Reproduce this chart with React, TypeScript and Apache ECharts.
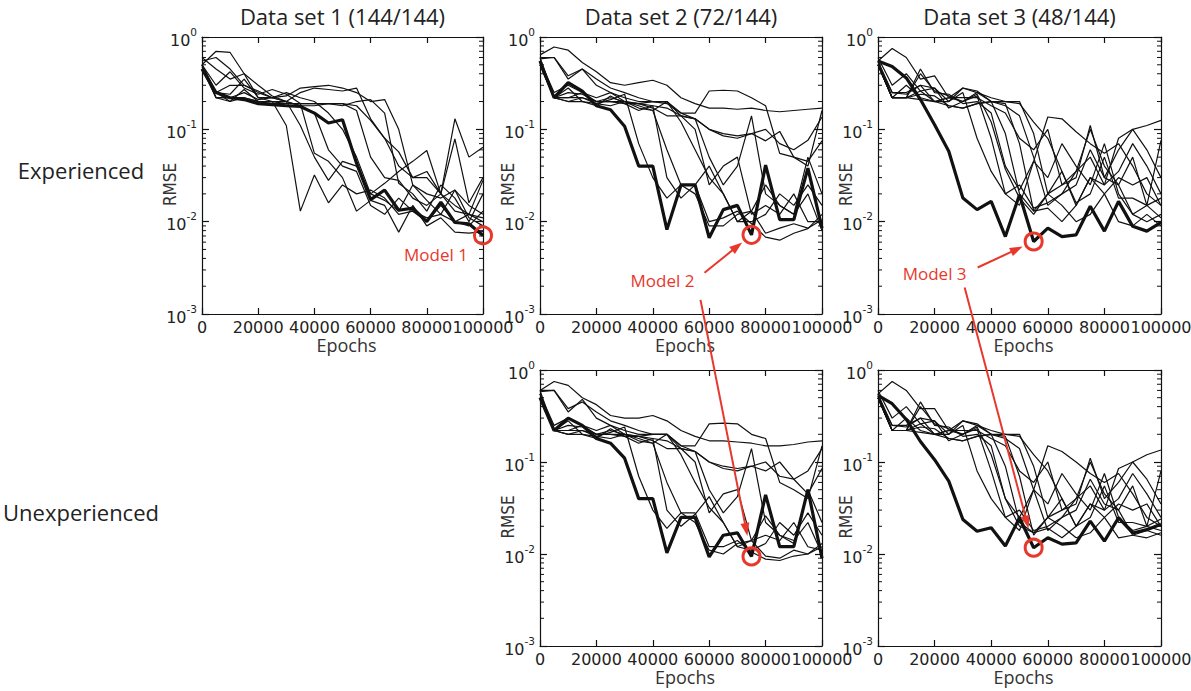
import React, { useEffect, useRef } from "react";
import * as echarts from "echarts";

const EPOCHS = [0, 5000, 10000, 15000, 20000, 25000, 30000, 35000, 40000, 45000, 50000, 55000, 60000, 65000, 70000, 75000, 80000, 85000, 90000, 95000, 100000];
const MINOR_TICKS = [0.002, 0.003, 0.004, 0.005, 0.006, 0.007, 0.008, 0.009, 0.02, 0.03, 0.04, 0.05, 0.06, 0.07, 0.08, 0.09, 0.2, 0.3, 0.4, 0.5, 0.6, 0.7, 0.8, 0.9];
const TITLES = ["Data set 1 (144/144)", "Data set 2 (72/144)", "Data set 3 (48/144)"];
const ROWS = ["Experienced", "Unexperienced"];
const MODELS = ["Model 1", "Model 2", "Model 3"];

// Data set 1, experienced
const exp1Best = [0.45, 0.25, 0.22, 0.21, 0.19, 0.185, 0.18, 0.177, 0.15, 0.117, 0.127, 0.043, 0.0173, 0.022, 0.0133, 0.014, 0.01, 0.0163, 0.0098, 0.0095, 0.0071];
const exp1Runs = [
  [0.5, 0.7, 0.68, 0.4, 0.3, 0.23, 0.2, 0.25, 0.28, 0.27, 0.26, 0.28, 0.13, 0.08, 0.04, 0.03, 0.03, 0.02, 0.015, 0.012, 0.011],
  [0.55, 0.6, 0.45, 0.3, 0.26, 0.22, 0.23, 0.28, 0.29, 0.3, 0.28, 0.25, 0.2, 0.21, 0.1, 0.025, 0.02, 0.018, 0.022, 0.015, 0.012],
  [0.45, 0.25, 0.2, 0.22, 0.2, 0.2, 0.11, 0.013, 0.032, 0.016, 0.025, 0.02, 0.022, 0.018, 0.012, 0.013, 0.011, 0.012, 0.01, 0.009, 0.013],
  [0.5, 0.22, 0.22, 0.25, 0.21, 0.22, 0.2, 0.11, 0.05, 0.028, 0.045, 0.04, 0.02, 0.026, 0.035, 0.045, 0.059, 0.02, 0.013, 0.012, 0.01],
  [0.5, 0.3, 0.42, 0.28, 0.24, 0.27, 0.24, 0.19, 0.055, 0.045, 0.03, 0.013, 0.017, 0.015, 0.0077, 0.015, 0.009, 0.011, 0.0077, 0.0075, 0.0078],
  [0.45, 0.22, 0.2, 0.27, 0.2, 0.2, 0.19, 0.19, 0.19, 0.19, 0.19, 0.18, 0.125, 0.08, 0.057, 0.03, 0.035, 0.02, 0.13, 0.05, 0.064],
  [0.5, 0.25, 0.24, 0.35, 0.22, 0.2, 0.2, 0.18, 0.18, 0.19, 0.19, 0.16, 0.05, 0.03, 0.028, 0.018, 0.015, 0.02, 0.079, 0.016, 0.03],
  [0.48, 0.22, 0.22, 0.22, 0.2, 0.19, 0.19, 0.19, 0.19, 0.19, 0.18, 0.2, 0.21, 0.15, 0.026, 0.02, 0.013, 0.025, 0.018, 0.01, 0.02],
  [0.5, 0.25, 0.3, 0.3, 0.25, 0.22, 0.25, 0.22, 0.2, 0.15, 0.1, 0.05, 0.02, 0.017, 0.013, 0.025, 0.017, 0.012, 0.022, 0.011, 0.009],
  [0.6, 0.45, 0.35, 0.4, 0.22, 0.22, 0.2, 0.18, 0.15, 0.06, 0.04, 0.035, 0.015, 0.012, 0.018, 0.013, 0.01, 0.015, 0.01, 0.012, 0.028],
];

// Data set 2, experienced
const exp2Best = [0.55, 0.22, 0.32, 0.26, 0.18, 0.163, 0.108, 0.04, 0.04, 0.0082, 0.025, 0.025, 0.0067, 0.0135, 0.015, 0.0072, 0.041, 0.0105, 0.0105, 0.038, 0.0085];
const exp2Runs = [
  [0.64, 0.78, 0.72, 0.53, 0.42, 0.32, 0.3, 0.32, 0.34, 0.3, 0.22, 0.19, 0.17, 0.17, 0.165, 0.17, 0.16, 0.155, 0.16, 0.165, 0.17],
  [0.58, 0.6, 0.35, 0.45, 0.3, 0.25, 0.22, 0.2, 0.2, 0.19, 0.15, 0.15, 0.26, 0.265, 0.26, 0.22, 0.18, 0.055, 0.05, 0.04, 0.16],
  [0.55, 0.22, 0.22, 0.22, 0.2, 0.2, 0.19, 0.19, 0.17, 0.14, 0.14, 0.13, 0.1, 0.09, 0.085, 0.09, 0.075, 0.095, 0.05, 0.045, 0.075],
  [0.5, 0.22, 0.25, 0.24, 0.2, 0.22, 0.2, 0.17, 0.16, 0.2, 0.15, 0.13, 0.05, 0.025, 0.04, 0.14, 0.02, 0.015, 0.012, 0.05, 0.02],
  [0.5, 0.22, 0.2, 0.22, 0.19, 0.21, 0.24, 0.07, 0.03, 0.018, 0.025, 0.025, 0.01, 0.011, 0.013, 0.0095, 0.0068, 0.0063, 0.0075, 0.0084, 0.012],
  [0.5, 0.22, 0.22, 0.25, 0.2, 0.2, 0.2, 0.18, 0.16, 0.06, 0.025, 0.02, 0.009, 0.009, 0.012, 0.013, 0.0075, 0.0085, 0.0095, 0.0085, 0.0105],
  [0.55, 0.22, 0.28, 0.2, 0.18, 0.23, 0.19, 0.16, 0.18, 0.17, 0.14, 0.1, 0.025, 0.04, 0.05, 0.012, 0.015, 0.012, 0.02, 0.01, 0.01],
  [0.6, 0.22, 0.2, 0.2, 0.19, 0.18, 0.2, 0.19, 0.2, 0.2, 0.12, 0.06, 0.03, 0.02, 0.01, 0.013, 0.025, 0.015, 0.012, 0.02, 0.008],
  [0.55, 0.25, 0.3, 0.25, 0.22, 0.25, 0.2, 0.19, 0.18, 0.03, 0.018, 0.025, 0.04, 0.02, 0.01, 0.01, 0.012, 0.02, 0.015, 0.025, 0.015],
  [0.6, 0.6, 0.38, 0.45, 0.35, 0.28, 0.25, 0.22, 0.2, 0.2, 0.14, 0.13, 0.1, 0.085, 0.08, 0.09, 0.1, 0.07, 0.06, 0.076, 0.136],
];

// Data set 3, experienced
const exp3Best = [0.55, 0.48, 0.36, 0.21, 0.112, 0.058, 0.018, 0.0135, 0.0166, 0.0069, 0.0196, 0.0061, 0.0085, 0.0069, 0.0072, 0.0147, 0.0079, 0.0166, 0.0089, 0.0079, 0.0098];
const exp3Runs = [
  [0.55, 0.75, 0.6, 0.35, 0.38, 0.22, 0.28, 0.25, 0.22, 0.2, 0.2, 0.09, 0.02, 0.025, 0.03, 0.11, 0.03, 0.06, 0.1, 0.11, 0.125],
  [0.5, 0.22, 0.22, 0.45, 0.25, 0.24, 0.19, 0.2, 0.15, 0.04, 0.022, 0.045, 0.136, 0.13, 0.094, 0.07, 0.055, 0.07, 0.04, 0.02, 0.015],
  [0.5, 0.22, 0.22, 0.21, 0.2, 0.18, 0.17, 0.19, 0.2, 0.18, 0.14, 0.05, 0.015, 0.02, 0.035, 0.05, 0.025, 0.035, 0.07, 0.04, 0.02],
  [0.5, 0.25, 0.24, 0.3, 0.28, 0.2, 0.25, 0.08, 0.035, 0.02, 0.025, 0.014, 0.016, 0.02, 0.025, 0.06, 0.03, 0.025, 0.012, 0.01, 0.012],
  [0.55, 0.22, 0.3, 0.22, 0.2, 0.22, 0.2, 0.24, 0.12, 0.037, 0.018, 0.012, 0.02, 0.035, 0.016, 0.02, 0.05, 0.018, 0.018, 0.015, 0.018],
  [0.5, 0.22, 0.22, 0.24, 0.23, 0.18, 0.17, 0.19, 0.2, 0.09, 0.02, 0.013, 0.014, 0.01, 0.015, 0.03, 0.02, 0.01, 0.009, 0.012, 0.009],
  [0.6, 0.3, 0.4, 0.26, 0.28, 0.17, 0.2, 0.23, 0.08, 0.02, 0.015, 0.045, 0.03, 0.07, 0.04, 0.025, 0.07, 0.02, 0.012, 0.015, 0.011],
  [0.5, 0.22, 0.22, 0.26, 0.2, 0.2, 0.28, 0.26, 0.2, 0.2, 0.19, 0.12, 0.08, 0.035, 0.015, 0.03, 0.025, 0.08, 0.1, 0.06, 0.03],
  [0.55, 0.25, 0.25, 0.3, 0.2, 0.22, 0.22, 0.22, 0.18, 0.15, 0.08, 0.06, 0.1, 0.025, 0.035, 0.1, 0.04, 0.025, 0.05, 0.015, 0.076],
  [0.5, 0.22, 0.22, 0.4, 0.26, 0.23, 0.2, 0.25, 0.2, 0.19, 0.07, 0.013, 0.02, 0.015, 0.01, 0.012, 0.02, 0.03, 0.025, 0.03, 0.015],
];

// Data set 2, unexperienced
const unexp2Best = [0.5, 0.22, 0.3, 0.25, 0.18, 0.16, 0.11, 0.04, 0.04, 0.0103, 0.025, 0.025, 0.0093, 0.016, 0.017, 0.0094, 0.044, 0.012, 0.012, 0.05, 0.009];
const unexp2Runs = [
  [0.6, 0.75, 0.68, 0.5, 0.42, 0.32, 0.3, 0.3, 0.32, 0.28, 0.22, 0.19, 0.17, 0.17, 0.165, 0.16, 0.15, 0.15, 0.155, 0.165, 0.17],
  [0.58, 0.6, 0.35, 0.48, 0.3, 0.25, 0.22, 0.2, 0.2, 0.2, 0.15, 0.15, 0.26, 0.265, 0.26, 0.2, 0.18, 0.06, 0.05, 0.04, 0.15],
  [0.55, 0.22, 0.22, 0.22, 0.2, 0.2, 0.19, 0.19, 0.17, 0.14, 0.14, 0.13, 0.1, 0.09, 0.085, 0.09, 0.08, 0.1, 0.065, 0.045, 0.085],
  [0.5, 0.22, 0.25, 0.24, 0.2, 0.22, 0.2, 0.17, 0.16, 0.2, 0.15, 0.13, 0.05, 0.028, 0.042, 0.14, 0.022, 0.016, 0.013, 0.05, 0.022],
  [0.5, 0.22, 0.2, 0.22, 0.19, 0.21, 0.24, 0.07, 0.03, 0.019, 0.028, 0.028, 0.012, 0.012, 0.014, 0.0105, 0.0088, 0.0085, 0.0095, 0.01, 0.013],
  [0.5, 0.22, 0.22, 0.25, 0.2, 0.2, 0.2, 0.18, 0.16, 0.06, 0.028, 0.022, 0.011, 0.01, 0.013, 0.014, 0.0095, 0.009, 0.011, 0.01, 0.012],
  [0.55, 0.22, 0.28, 0.2, 0.18, 0.23, 0.19, 0.16, 0.18, 0.17, 0.14, 0.1, 0.028, 0.045, 0.05, 0.014, 0.016, 0.014, 0.022, 0.012, 0.011],
  [0.6, 0.22, 0.2, 0.2, 0.19, 0.18, 0.2, 0.19, 0.2, 0.2, 0.12, 0.06, 0.032, 0.022, 0.012, 0.014, 0.026, 0.016, 0.014, 0.022, 0.01],
  [0.55, 0.25, 0.3, 0.25, 0.22, 0.25, 0.2, 0.19, 0.18, 0.03, 0.02, 0.027, 0.042, 0.022, 0.012, 0.011, 0.013, 0.022, 0.016, 0.028, 0.016],
  [0.6, 0.6, 0.38, 0.45, 0.35, 0.28, 0.25, 0.22, 0.2, 0.2, 0.14, 0.13, 0.1, 0.085, 0.08, 0.09, 0.1, 0.07, 0.065, 0.08, 0.14],
];

// Data set 3, unexperienced
const unexp3Best = [0.53, 0.43, 0.29, 0.167, 0.106, 0.062, 0.0237, 0.0177, 0.0193, 0.0122, 0.0248, 0.0117, 0.015, 0.0128, 0.0132, 0.0228, 0.0138, 0.0248, 0.0169, 0.0184, 0.0211];
const unexp3Runs = [
  [0.55, 0.75, 0.6, 0.38, 0.38, 0.22, 0.28, 0.25, 0.22, 0.2, 0.2, 0.09, 0.025, 0.03, 0.035, 0.11, 0.04, 0.06, 0.1, 0.12, 0.135],
  [0.5, 0.22, 0.22, 0.45, 0.25, 0.24, 0.19, 0.2, 0.15, 0.04, 0.025, 0.05, 0.15, 0.13, 0.1, 0.075, 0.06, 0.075, 0.045, 0.025, 0.02],
  [0.5, 0.22, 0.22, 0.21, 0.2, 0.18, 0.17, 0.19, 0.2, 0.18, 0.14, 0.05, 0.018, 0.025, 0.04, 0.055, 0.03, 0.04, 0.075, 0.045, 0.025],
  [0.5, 0.25, 0.24, 0.3, 0.28, 0.2, 0.25, 0.08, 0.04, 0.025, 0.03, 0.018, 0.02, 0.025, 0.03, 0.065, 0.035, 0.03, 0.016, 0.015, 0.017],
  [0.55, 0.22, 0.3, 0.22, 0.2, 0.22, 0.2, 0.24, 0.12, 0.04, 0.02, 0.017, 0.025, 0.04, 0.02, 0.025, 0.055, 0.022, 0.022, 0.02, 0.024],
  [0.5, 0.22, 0.22, 0.24, 0.23, 0.18, 0.17, 0.19, 0.2, 0.09, 0.022, 0.017, 0.019, 0.015, 0.02, 0.035, 0.025, 0.015, 0.016, 0.018, 0.016],
  [0.6, 0.3, 0.4, 0.26, 0.28, 0.17, 0.2, 0.23, 0.08, 0.025, 0.018, 0.05, 0.035, 0.075, 0.045, 0.03, 0.075, 0.025, 0.018, 0.02, 0.018],
  [0.5, 0.22, 0.22, 0.26, 0.2, 0.2, 0.28, 0.26, 0.2, 0.2, 0.19, 0.12, 0.08, 0.04, 0.02, 0.035, 0.03, 0.085, 0.1, 0.065, 0.035],
  [0.55, 0.25, 0.25, 0.3, 0.2, 0.22, 0.22, 0.22, 0.18, 0.15, 0.08, 0.06, 0.1, 0.03, 0.04, 0.1, 0.045, 0.03, 0.055, 0.02, 0.08],
  [0.5, 0.22, 0.22, 0.4, 0.26, 0.23, 0.2, 0.25, 0.2, 0.19, 0.07, 0.016, 0.025, 0.02, 0.015, 0.017, 0.025, 0.035, 0.03, 0.035, 0.02],
];

const PANELS = [
  { best: exp1Best, runs: exp1Runs, pick: 20 },
  { best: exp2Best, runs: exp2Runs, pick: 15 },
  { best: exp3Best, runs: exp3Runs, pick: 11 },
  { best: unexp2Best, runs: unexp2Runs, pick: 15 },
  { best: unexp3Best, runs: unexp3Runs, pick: 11 },
];

const GRIDS = [
  { left: 202, top: 37, width: 281, height: 277 },
  { left: 540, top: 37, width: 282, height: 277 },
  { left: 878, top: 37, width: 283, height: 277 },
  { left: 540, top: 370, width: 282, height: 276 },
  { left: 878, top: 370, width: 283, height: 276 },
];

const RED = "#e8382c";
const INK = "#111";
const TEXT = "#222";
const NARROW = '"Liberation Sans Narrow", "DejaVu Sans Condensed", "Open Sans", sans-serif';
const TICKFONT = '"DejaVu Sans", Verdana, sans-serif';

function buildOption() {
  const xAxis: any[] = [];
  const yAxis: any[] = [];
  const series: any[] = [];
  const lineStyle = { color: INK, width: 1.2 };
  GRIDS.forEach((_, p) => {
    const baseX = {
      type: "value",
      gridIndex: p,
      min: 0,
      max: 100000,
      interval: 20000,
      splitLine: { show: false },
      axisLine: { show: true, onZero: false, lineStyle },
      axisTick: { show: true, inside: true, length: 6, lineStyle },
    };
    xAxis.push({
      ...baseX,
      position: "bottom",
      name: "Epochs",
      nameLocation: "middle",
      nameGap: 22,
      nameMoveOverlap: false,
      nameTextStyle: { fontFamily: "Open Sans", fontSize: 18, color: "#333", padding: [0, 0, 0, 8] },
      axisLabel: {
        fontFamily: TICKFONT,
        fontSize: 16,
        color: TEXT,
        margin: 5,
        showMinLabel: true,
        showMaxLabel: true,
        hideOverlap: false,
        formatter: (v: number) => String(Math.round(v)),
      },
    });
    xAxis.push({ ...baseX, position: "top", axisLabel: { show: false } });
    const baseY = {
      type: "log",
      logBase: 10,
      gridIndex: p,
      min: 0.001,
      max: 1,
      splitLine: { show: false },
      axisLine: { show: true, onZero: false, lineStyle },
      axisTick: { show: true, inside: true, length: 7, lineStyle },
    };
    yAxis.push({
      ...baseY,
      position: "left",
      name: "RMSE",
      nameLocation: "middle",
      nameRotate: 90,
      nameGap: 24,
      nameMoveOverlap: false,
      nameTextStyle: { fontFamily: NARROW, fontSize: 17, color: "#333", padding: [0, 18, 0, 0] },
      axisLabel: {
        margin: 5,
        showMinLabel: true,
        showMaxLabel: true,
        formatter: (v: number) => `{b|10}{s|${Math.round(Math.log10(v))}}`,
        rich: {
          b: { fontFamily: TICKFONT, fontSize: 16, color: TEXT, lineHeight: 22, verticalAlign: "bottom" },
          s: { fontFamily: TICKFONT, fontSize: 10.5, color: TEXT, lineHeight: 22, verticalAlign: "top" },
        },
      },
    });
    yAxis.push({ ...baseY, position: "right", axisLabel: { show: false } });

    const panel = PANELS[p];
    panel.runs.forEach((run) => {
      series.push({
        type: "line",
        xAxisIndex: 2 * p,
        yAxisIndex: 2 * p,
        data: EPOCHS.map((x, i) => [x, run[i]]),
        symbol: "none",
        silent: true,
        lineStyle: { color: INK, width: 1.2 },
        z: 2,
      });
    });
    series.push({
      type: "line",
      xAxisIndex: 2 * p,
      yAxisIndex: 2 * p,
      data: EPOCHS.map((x, i) => [x, panel.best[i]]),
      symbol: "none",
      silent: true,
      lineStyle: { color: INK, width: 3.2 },
      z: 3,
    });
    series.push({
      type: "custom",
      xAxisIndex: 2 * p,
      yAxisIndex: 2 * p,
      silent: true,
      clip: false,
      data: MINOR_TICKS.map((v) => [0, v]),
      encode: { x: 0, y: 1 },
      renderItem: (_params: any, api: any) => {
        const v = api.value(1);
        const l = api.coord([0, v]);
        const r = api.coord([100000, v]);
        return {
          type: "group",
          children: [
            { type: "line", shape: { x1: l[0], y1: l[1], x2: l[0] + 4, y2: l[1] }, style: { stroke: INK, lineWidth: 1 } },
            { type: "line", shape: { x1: r[0] - 4, y1: r[1], x2: r[0], y2: r[1] }, style: { stroke: INK, lineWidth: 1 } },
          ],
        };
      },
    });
  });

  return {
    animation: false,
    backgroundColor: "#fff",
    grid: GRIDS.map((g) => ({ ...g, containLabel: false, outerBoundsMode: "none" })),
    xAxis,
    yAxis,
    series,
  };
}

function arrow(sx: number, sy: number, cx: number, cy: number, gap: number) {
  const dx = cx - sx;
  const dy = cy - sy;
  const L = Math.hypot(dx, dy);
  const ux = dx / L;
  const uy = dy / L;
  const tx = cx - ux * gap;
  const ty = cy - uy * gap;
  const head = 13;
  const hw = 4.5;
  const bx = tx - ux * head;
  const by = ty - uy * head;
  const nx = -uy;
  const ny = ux;
  return [
    { type: "line", shape: { x1: sx, y1: sy, x2: bx + ux * 2, y2: by + uy * 2 }, style: { stroke: RED, lineWidth: 2 }, z: 100 },
    {
      type: "polygon",
      shape: { points: [[tx, ty], [bx + nx * hw, by + ny * hw], [bx - nx * hw, by - ny * hw]] },
      style: { fill: RED },
      z: 100,
    },
  ];
}

export default function App() {
  const ref = useRef<HTMLDivElement>(null);
  useEffect(() => {
    if (!ref.current) return;
    const chart = echarts.init(ref.current, undefined, { renderer: "svg" });
    chart.setOption(buildOption());

    const c = PANELS.map((panel, p) =>
      chart.convertToPixel({ xAxisIndex: 2 * p, yAxisIndex: 2 * p } as any, [EPOCHS[panel.pick], panel.best[panel.pick]]) as number[]
    );

    const textStyle = (text: string, size: number, fill: string, align = "center") => ({
      text,
      fontSize: size,
      fontFamily: "Open Sans",
      fill,
      align,
      verticalAlign: "middle",
    });

    const elements: any[] = [];
    const titleX = [GRIDS[0], GRIDS[1], GRIDS[2]].map((g) => g.left + g.width / 2);
    TITLES.forEach((t, i) => elements.push({ type: "text", x: titleX[i], y: 16, style: textStyle(t, 22, TEXT) }));
    elements.push({ type: "text", x: 81, y: 170, style: textStyle(ROWS[0], 22, TEXT) });
    elements.push({ type: "text", x: 81, y: 512, style: textStyle(ROWS[1], 22, TEXT) });

    c.forEach((pt) => {
      elements.push({
        type: "circle",
        shape: { cx: pt[0], cy: pt[1], r: 8.5 },
        style: { fill: "none", stroke: RED, lineWidth: 3 },
        z: 100,
      });
    });

    elements.push({ type: "text", x: c[0][0] - 47, y: c[0][1] + 19, style: textStyle(MODELS[0], 17, RED), z: 100 });
    elements.push({ type: "text", x: c[1][0] - 89, y: c[1][1] + 46, style: textStyle(MODELS[1], 17, RED), z: 100 });
    elements.push({ type: "text", x: c[2][0] - 99, y: c[2][1] + 32, style: textStyle(MODELS[2], 17, RED), z: 100 });

    elements.push(...arrow(c[1][0] - 47, c[1][1] + 38, c[1][0], c[1][1], 12));
    elements.push(...arrow(c[1][0] - 51, c[1][1] + 65, c[3][0], c[3][1], 21));
    elements.push(...arrow(c[2][0] - 56, c[2][1] + 26, c[2][0], c[2][1], 12));
    elements.push(...arrow(c[2][0] - 69, c[2][1] + 46, c[4][0], c[4][1], 20));

    chart.setOption({ graphic: { elements } });

    return () => chart.dispose();
  }, []);
  return <div ref={ref} style={{ position: "absolute", left: 0, top: 0, width: 1191, height: 691 }} />;
}
